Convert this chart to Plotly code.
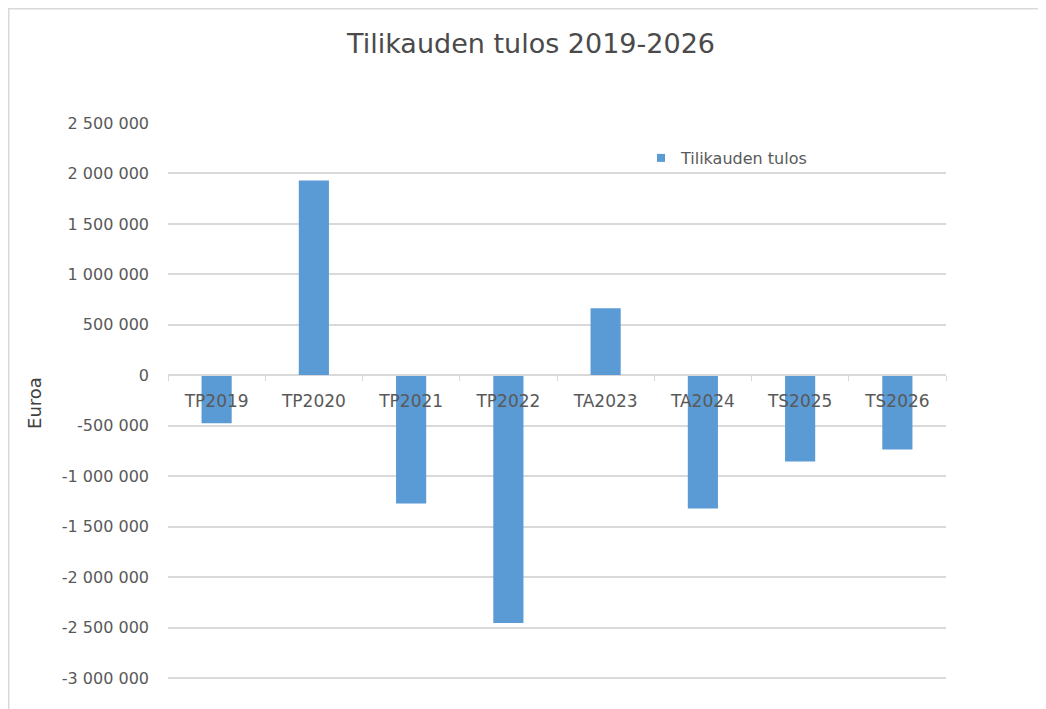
import plotly.graph_objects as go

categories = ["TP2019", "TP2020", "TP2021", "TP2022", "TA2023", "TA2024", "TS2025", "TS2026"]
tulos = [-475000, 1930000, -1270000, -2455000, 665000, -1320000, -855000, -735000]
tick_vals = [2500000, 2000000, 1500000, 1000000, 500000, 0, -500000, -1000000,
             -1500000, -2000000, -2500000, -3000000]
tick_text = [f"{v:,}".replace(",", " ") for v in tick_vals]

W, H = 1046, 709
OFF = 8  # page body margin
L, T = 168 - OFF, 123 - OFF
PW = 778
PX_PER = 555.0 / 5500000
ymax = 2500000
ymin = -3050000
PH = (ymax - ymin) * PX_PER
R = W - L - PW
B = H - T - PH
font = "DejaVu Sans, sans-serif"
col = "#595959"

fig = go.Figure()
fig.add_trace(go.Bar(
    x=categories, y=tulos, name="Tilikauden tulos",
    marker=dict(color="#5b9bd5", line=dict(width=0)),
    width=0.31, showlegend=False,
))
fig.add_trace(go.Scatter(
    x=[None], y=[None], mode="markers", name="Tilikauden tulos",
    marker=dict(symbol="square", size=8, color="#5b9bd5"), showlegend=True,
))

zero_pos = (0 - ymin) / (ymax - ymin)

fig.update_layout(
    width=W, height=H,
    margin=dict(l=L, r=R, t=T, b=B, autoexpand=False),
    paper_bgcolor="white", plot_bgcolor="white",
    font=dict(family=font, color=col, size=15),
    title=dict(text="Tilikauden tulos 2019-2026", x=(531 - OFF) / W, xanchor="center",
               y=1 - (44 - OFF) / H, yanchor="middle",
               font=dict(size=27, color="#4a4a4a", family=font)),
    showlegend=True,
    legend=dict(x=(641 - OFF - L) / PW, y=1 - (141 - OFF - T) / PH, xanchor="left", yanchor="top",
                bgcolor="rgba(0,0,0,0)", font=dict(size=16, color=col),
                itemwidth=30, tracegroupgap=0),
    xaxis=dict(
        type="category", anchor="free", position=zero_pos,
        showline=True, linecolor="#d9d9d9", linewidth=1,
        ticks="outside", tickson="boundaries", ticklen=5, tickcolor="#d9d9d9",
        showgrid=False, tickfont=dict(size=17, color=col), ticklabelstandoff=10,
        range=[-0.5, 7.5], fixedrange=True,
    ),
    yaxis=dict(
        range=[ymin, ymax], tickvals=tick_vals, ticktext=tick_text,
        showgrid=True, gridcolor="#d9d9d9", gridwidth=1.5,
        zeroline=False, showline=False, ticks="",
        tickfont=dict(size=16, color=col), ticklabelstandoff=18,
        title=dict(text="Euroa", font=dict(size=18, color="#404040"), standoff=15),
    ),
    shapes=[dict(type="rect", xref="paper", yref="paper",
                 x0=(0.5 - L) / PW, x1=(1100 - L) / PW,
                 y0=-(B + 50) / PH, y1=1 + (T - 0.5) / PH,
                 line=dict(color="#d9d9d9", width=2), fillcolor="rgba(0,0,0,0)", layer="below")],
)

fig.write_html("out.html")
